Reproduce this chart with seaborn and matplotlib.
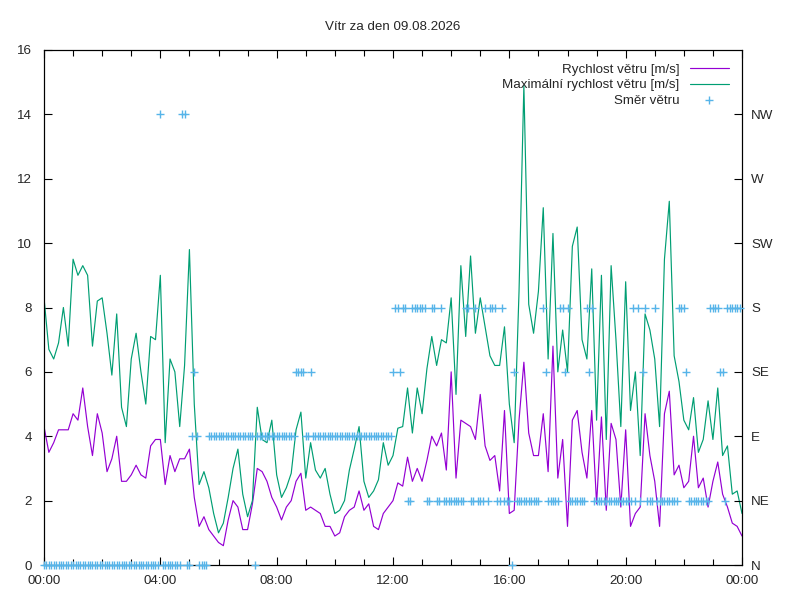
import pandas as pd
import matplotlib
matplotlib.use("Agg")
import matplotlib.pyplot as plt
import matplotlib.dates as mdates
from matplotlib.lines import Line2D
import seaborn as sns

title = "Vítr za den 09.08.2026"
day_start = "2026-08-09 00:00"

# 10-minute samples from 00:00 to 24:00
wind_speed = [
    4.3, 3.5, 3.8, 4.2, 4.2, 4.2, 4.7, 4.5, 5.5, 4.3, 3.4, 4.7,
    4.1, 2.9, 3.3, 4.0, 2.6, 2.6, 2.8, 3.1, 2.8, 2.7, 3.7, 3.9,
    3.9, 2.5, 3.4, 2.9, 3.3, 3.3, 3.6, 2.1, 1.2, 1.5, 1.1, 0.9,
    0.7, 0.6, 1.4, 2.0, 1.8, 1.1, 1.1, 1.9, 3.0, 2.9, 2.6, 2.1,
    1.8, 1.4, 1.8, 2.0, 2.6, 2.85, 1.7, 1.8, 1.7, 1.6, 1.2, 1.2,
    0.9, 1.0, 1.5, 1.7, 1.8, 2.3, 1.7, 1.9, 1.2, 1.1, 1.6, 1.8,
    2.0, 2.55, 2.45, 3.35, 2.6, 3.0, 2.6, 3.25, 4.0, 3.7, 4.1, 2.95,
    6.0, 2.7, 4.5, 4.4, 4.3, 3.9, 5.3, 3.7, 3.25, 3.4, 2.3, 4.8,
    1.6, 1.7, 4.5, 6.3, 4.1, 3.4, 3.4, 4.7, 2.9, 6.8, 2.7, 3.9,
    1.2, 4.5, 4.8, 3.5, 2.7, 4.8, 1.9, 4.6, 1.7, 4.4, 3.9, 1.8,
    4.2, 1.2, 1.6, 1.8, 4.7, 3.4, 2.6, 1.2, 4.7, 5.4, 2.8, 3.1,
    2.4, 2.6, 4.0, 2.4, 2.7, 1.8, 2.6, 3.2, 2.2, 1.8, 1.3, 1.2,
    0.9,
]
wind_gust = [
    8.3, 6.7, 6.4, 6.9, 8.0, 6.8, 9.5, 9.0, 9.3, 9.0, 6.8, 8.2,
    8.3, 7.2, 5.9, 7.8, 4.9, 4.3, 6.4, 7.2, 6.0, 5.0, 7.1, 7.0,
    9.0, 3.8, 6.4, 6.0, 4.3, 6.2, 9.8, 5.0, 2.5, 2.9, 2.4, 1.6,
    1.0, 1.3, 2.1, 3.0, 3.6, 2.2, 1.5, 2.0, 4.9, 3.9, 3.8, 4.5,
    2.8, 2.1, 2.4, 2.85, 4.2, 4.75, 2.7, 3.8, 2.95, 2.7, 3.0, 2.2,
    1.6, 1.7, 2.0, 2.95, 3.6, 4.3, 2.6, 2.1, 2.3, 2.65, 3.8, 3.1,
    3.4, 4.25, 4.3, 5.5, 4.1, 5.5, 4.7, 6.1, 7.1, 6.2, 7.0, 6.9,
    8.3, 5.3, 9.3, 7.1, 9.6, 7.2, 8.3, 7.4, 6.5, 6.2, 6.2, 7.4,
    5.0, 3.8, 8.5, 14.9, 8.1, 7.2, 8.5, 11.1, 6.4, 10.3, 6.0, 7.3,
    6.0, 9.9, 10.5, 7.0, 6.4, 9.2, 4.5, 9.0, 3.9, 9.3, 7.0, 4.3,
    8.8, 4.8, 6.0, 3.4, 7.8, 7.3, 6.4, 4.3, 9.5, 11.3, 6.5, 5.7,
    4.5, 4.2, 5.2, 3.5, 3.9, 5.1, 3.9, 5.5, 3.4, 3.7, 2.2, 2.3,
    1.6,
]

# wind direction every 5 minutes, one row per hour ("-" = no reading)
wind_dir_rows = [
    "N N N N N N N N N N N N",
    "N N N N N N N N N N N N",
    "N N N N N N N N N N N N",
    "N N N N N N N N N N N N",
    "NW N N N N N N N N NW NW N",
    "N E SE E N N N N E E E E",
    "E E E E E E E E E E E E",
    "E E E N E E E E E E E E",
    "E E E E E E E E SE SE SE SE",
    "E E SE E E E E E E E E E",
    "E E E E E E E E E E E E",
    "E E E E E E E E E E E E",
    "SE S S SE S S NE NE S S S S",
    "S S NE NE S S NE NE S NE NE NE",
    "NE NE NE NE NE NE S S NE NE S NE",
    "NE NE S NE S S S NE NE S NE NE",
    "NE N SE NE NE NE NE NE NE NE NE NE",
    "NE - S SE NE NE NE NE NE S S SE",
    "S NE NE NE NE NE NE NE S SE S NE",
    "NE NE NE NE NE NE NE NE NE NE NE NE",
    "NE NE NE S NE S NE SE S NE NE NE",
    "S NE NE NE NE NE NE NE NE NE S S",
    "S SE NE NE NE NE NE NE NE NE NE S",
    "S S S SE SE NE S S S S S S",
]

compass = ["N", "NE", "E", "SE", "S", "SW", "W", "NW"]
compass_pos = [0, 2, 4, 6, 8, 10, 12, 14]
x_tick_hours = [0, 4, 8, 12, 16, 20, 24]

c_speed = "#9400d3"
c_gust = "#009e73"
c_dir = "#56b4e9"

speed_df = pd.DataFrame({
    "time": pd.date_range(day_start, periods=len(wind_speed), freq="10min"),
    "speed": wind_speed,
    "gust": wind_gust,
})

codes = " ".join(wind_dir_rows).split()
dir_df = pd.DataFrame({
    "time": pd.date_range(day_start, periods=len(codes), freq="5min"),
    "code": codes,
})
dir_df = dir_df[dir_df["code"] != "-"].copy()
dir_df["dir"] = dir_df["code"].map(dict(zip(compass, compass_pos)))

sns.set_theme(style="white")
plt.rcParams["font.family"] = ["Liberation Sans", "DejaVu Sans"]
fs = 9.6

fig = plt.figure(figsize=(8, 6), dpi=100)
ax = fig.add_axes([44 / 800, 35 / 600, 698 / 800, 515 / 600])

sns.lineplot(data=speed_df, x="time", y="speed", ax=ax, color=c_speed, lw=0.85)
sns.lineplot(data=speed_df, x="time", y="gust", ax=ax, color=c_gust, lw=0.85)

ax2 = ax.twinx()
sns.scatterplot(data=dir_df, x="time", y="dir", ax=ax2, marker="+", color=c_dir,
                s=28, linewidth=1.0, clip_on=False, zorder=5)

t0 = pd.Timestamp(day_start)
ax.set_xlim(t0, t0 + pd.Timedelta(hours=24))
ax.set_ylim(0, 16)
ax2.set_ylim(0, 16)
ax.set_yticks(range(0, 17, 2))
ax2.set_yticks(compass_pos)
ax2.set_yticklabels(compass)

ax.xaxis.set_major_locator(mdates.HourLocator(byhour=x_tick_hours[:-1]))
ax.xaxis.set_minor_locator(mdates.HourLocator())
ax.xaxis.set_major_formatter(mdates.DateFormatter("%H:%M"))

for a in (ax, ax2):
    a.set_xlabel("")
    a.set_ylabel("")
    for sp in a.spines.values():
        sp.set_color("black")
        sp.set_linewidth(0.8)

ax.tick_params(axis="x", which="both", direction="in", top=True, bottom=True,
               color="black", width=0.8, labelsize=fs, pad=7)
ax.tick_params(axis="x", which="major", length=6)
ax.tick_params(axis="x", which="minor", length=4)
ax.tick_params(axis="y", direction="in", left=True, right=False, length=6,
               color="black", width=0.8, labelsize=fs, pad=8.5)
ax2.tick_params(axis="y", direction="in", right=True, length=6,
                color="black", width=0.8, labelsize=fs, pad=6.5)
ax.grid(False)
ax2.grid(False)

ax.set_title(title, fontsize=fs, pad=14.5)

handles = [
    Line2D([], [], color=c_speed, lw=0.85),
    Line2D([], [], color=c_gust, lw=0.85),
    Line2D([], [], color=c_dir, ls="", marker="+", ms=5.3, mew=1.0),
]
labels = ["Rychlost větru [m/s]", "Maximální rychlost větru [m/s]", "Směr větru"]
leg = ax2.legend(handles, labels, loc="upper right", frameon=False, markerfirst=False,
                 fontsize=fs, handlelength=2.9, handletextpad=0.8, labelspacing=0.26,
                 borderaxespad=0.6)

fig.savefig("out.png", dpi=100)
